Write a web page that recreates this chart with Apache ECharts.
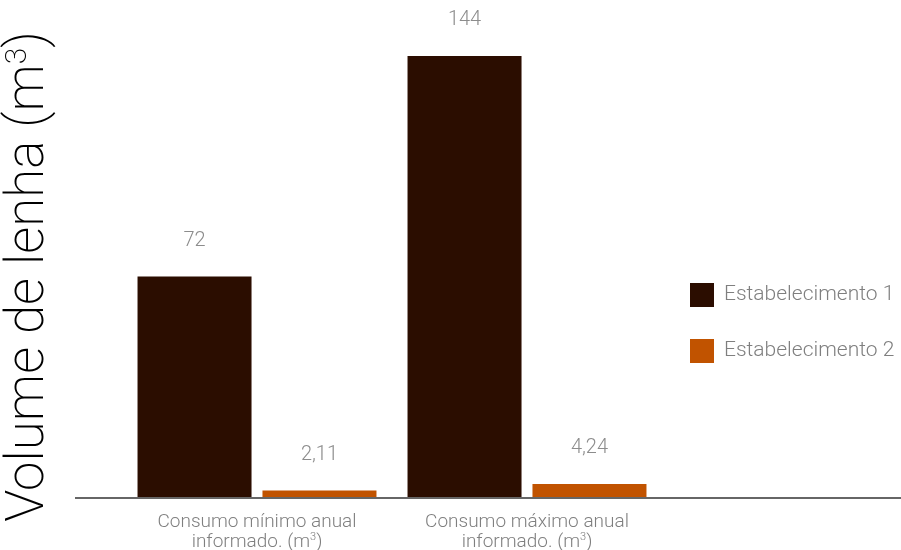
<!DOCTYPE html>
<html><head><meta charset="utf-8">
<script src="https://cdn.jsdelivr.net/npm/echarts@6/dist/echarts.min.js"></script>
<style>html,body{margin:0;padding:0;background:#fff}#c{width:901px;height:550px}</style>
</head><body><div id="c"></div>
<script>
var categories = ['Consumo mínimo anual\ninformado. (m{sup|3})', 'Consumo máximo anual\ninformado. (m{sup|3})'];
var seriesNames = ['Estabelecimento 1', 'Estabelecimento 2'];
var est1 = [72, 144];
var est2 = [2.11, 4.24];
var colors = ['#2b0d00', '#c15300'];
var FONT = 'Roboto';
var chart = echarts.init(document.getElementById('c'));
function lbl(v){ return String(v.value).replace('.', ','); }
var option = {
  animation: false,
  textStyle: {fontFamily: FONT},
  grid: {left: 122, right: 239, top: 56, bottom: 53, containLabel: false, outerBoundsMode: 'none'},
  legend: {
    orient: 'vertical', left: 685, top: 278, itemWidth: 24, itemHeight: 24, itemGap: 32,
    icon: 'rect',
    textStyle: {fontFamily: FONT, fontWeight: 300, fontSize: 21, color: '#7f7f7f', padding: [0,0,0,5]},
    data: seriesNames
  },
  xAxis: {
    type: 'category', data: categories,
    axisLine: {show: false}, axisTick: {show: false},
    axisLabel: {
      fontFamily: FONT, fontWeight: 300, fontSize: 19, color: '#7f7f7f', lineHeight: 20, margin: 15,
      rich: {sup: {fontSize: 11, verticalAlign: 'top', lineHeight: 14, color: '#7f7f7f', fontWeight: 300, fontFamily: FONT}}
    }
  },
  yAxis: {
    type: 'value', min: 0, max: 144,
    axisLine: {show: false}, axisTick: {show: false}, axisLabel: {show: false}, splitLine: {show: false},
    name: 'Volume de lenha (m{sup|3})', nameLocation: 'middle', nameGap: 66, nameRotate: 90,
    nameTextStyle: {fontFamily: FONT, fontWeight: 200, fontSize: 53, color: '#000',
      rich: {sup: {fontSize: 30, verticalAlign: 'top', lineHeight: 42, fontWeight: 200, fontFamily: FONT, color: '#000'}}}
  },
  series: [
    {name: seriesNames[0], type: 'bar', data: est1, barGap: '9.6%', barCategoryGap: '11.5%',
     itemStyle: {color: colors[0]},
     label: {show: true, position: 'top', distance: 26, fontSize: 20, fontWeight: 300, fontFamily: FONT, color: '#8c8c8c', formatter: lbl}},
    {name: seriesNames[1], type: 'bar', data: est2,
     itemStyle: {color: colors[1]},
     label: {show: true, position: 'top', distance: 26, fontSize: 20, fontWeight: 300, fontFamily: FONT, color: '#8c8c8c', formatter: lbl}}
  ]
};
chart.setOption(option);
var y0 = chart.convertToPixel({yAxisIndex: 0}, 0);
chart.setOption({graphic: [{type: 'line', shape: {x1: 75, y1: y0 + 1, x2: 901, y2: y0 + 1}, style: {stroke: '#666666', lineWidth: 2}, z: 10}]});
</script></body></html>
